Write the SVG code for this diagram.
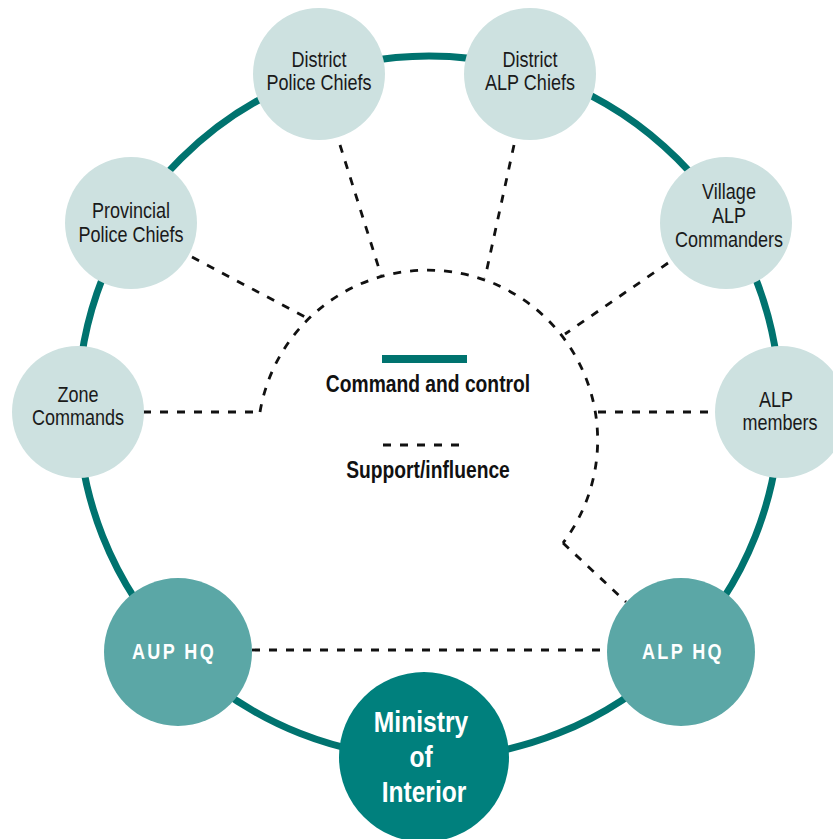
<svg xmlns="http://www.w3.org/2000/svg" width="833" height="839" viewBox="0 0 833 839">
  <style>
    .ring { fill: none; stroke: #00736f; stroke-width: 7; }
    .dash { fill: none; stroke: #111; stroke-width: 2.8; stroke-dasharray: 8 9; }
    .light { fill: #cde1e0; }
    .mid { fill: #5ba7a6; }
    .dark { fill: #00807d; }
    text { font-family: "Liberation Sans", Arial, sans-serif; text-anchor: middle; }
    .lbl { font-size: 22px; fill: #1a1a1a; }
    .hq { font-size: 22px; font-weight: bold; fill: #ffffff; letter-spacing: 2.9px; }
    .moi { font-size: 30px; font-weight: bold; fill: #ffffff; }
    .leg { font-size: 23.5px; font-weight: bold; fill: #111; }
  </style>
  <rect width="833" height="839" fill="#ffffff"/>
  <circle class="ring" cx="429" cy="407" r="351"/>
  <g id="connectors">
    <path class="dash" d="M 260 412 A 170 170 0 1 1 563 543"/>
    <path class="dash" d="M 563 543 L 626 602"/>
    <path class="dash" d="M 340 145 L 381 275"/>
    <path class="dash" d="M 514 145 L 485 278"/>
    <path class="dash" d="M 192 257 L 307 318"/>
    <path class="dash" d="M 668 263 L 565 334"/>
    <path class="dash" d="M 143 412 L 260 412"/>
    <path class="dash" d="M 598 412 L 715 412"/>
    <path class="dash" d="M 252 650 L 607 650"/>
  </g>
  <g id="legend">
    <line x1="382" y1="359" x2="467" y2="359" stroke="#00736f" stroke-width="8"/>
    <text class="leg" transform="translate(428 392) scale(0.82 1)">Command and control</text>
    <line class="dash" x1="383" y1="445" x2="466" y2="445"/>
    <text class="leg" transform="translate(428 478) scale(0.82 1)">Support/influence</text>
  </g>
  <g id="district-police-chiefs">
    <circle class="light" cx="319" cy="74" r="66"/>
    <text class="lbl" transform="translate(319 67) scale(0.82 1)">District</text>
    <text class="lbl" transform="translate(319 90) scale(0.82 1)">Police Chiefs</text>
  </g>
  <g id="district-alp-chiefs">
    <circle class="light" cx="530" cy="74" r="66"/>
    <text class="lbl" transform="translate(530 67) scale(0.82 1)">District</text>
    <text class="lbl" transform="translate(530 90) scale(0.82 1)">ALP Chiefs</text>
  </g>
  <g id="provincial-police-chiefs">
    <circle class="light" cx="131" cy="223" r="66"/>
    <text class="lbl" transform="translate(131 218) scale(0.82 1)">Provincial</text>
    <text class="lbl" transform="translate(131 242) scale(0.82 1)">Police Chiefs</text>
  </g>
  <g id="village-alp-commanders">
    <circle class="light" cx="726" cy="223" r="66"/>
    <text class="lbl" transform="translate(729 199) scale(0.82 1)">Village</text>
    <text class="lbl" transform="translate(729 223) scale(0.82 1)">ALP</text>
    <text class="lbl" transform="translate(729 247) scale(0.82 1)">Commanders</text>
  </g>
  <g id="zone-commands">
    <circle class="light" cx="78" cy="412" r="66"/>
    <text class="lbl" transform="translate(78 402) scale(0.82 1)">Zone</text>
    <text class="lbl" transform="translate(78 425) scale(0.82 1)">Commands</text>
  </g>
  <g id="alp-members">
    <circle class="light" cx="781" cy="412" r="66"/>
    <text class="lbl" transform="translate(776 407) scale(0.82 1)">ALP</text>
    <text class="lbl" transform="translate(780 430) scale(0.82 1)">members</text>
  </g>
  <g id="aup-hq">
    <circle class="mid" cx="178" cy="652" r="74"/>
    <text class="hq" transform="translate(174 659) scale(0.82 1)">AUP HQ</text>
  </g>
  <g id="alp-hq">
    <circle class="mid" cx="681" cy="652" r="74"/>
    <text class="hq" transform="translate(683 659) scale(0.82 1)">ALP HQ</text>
  </g>
  <g id="ministry-of-interior">
    <circle class="dark" cx="424" cy="757" r="85"/>
    <text class="moi" transform="translate(421 732) scale(0.82 1)">Ministry</text>
    <text class="moi" transform="translate(421 767) scale(0.82 1)">of</text>
    <text class="moi" transform="translate(424 802) scale(0.82 1)">Interior</text>
  </g>
</svg>
